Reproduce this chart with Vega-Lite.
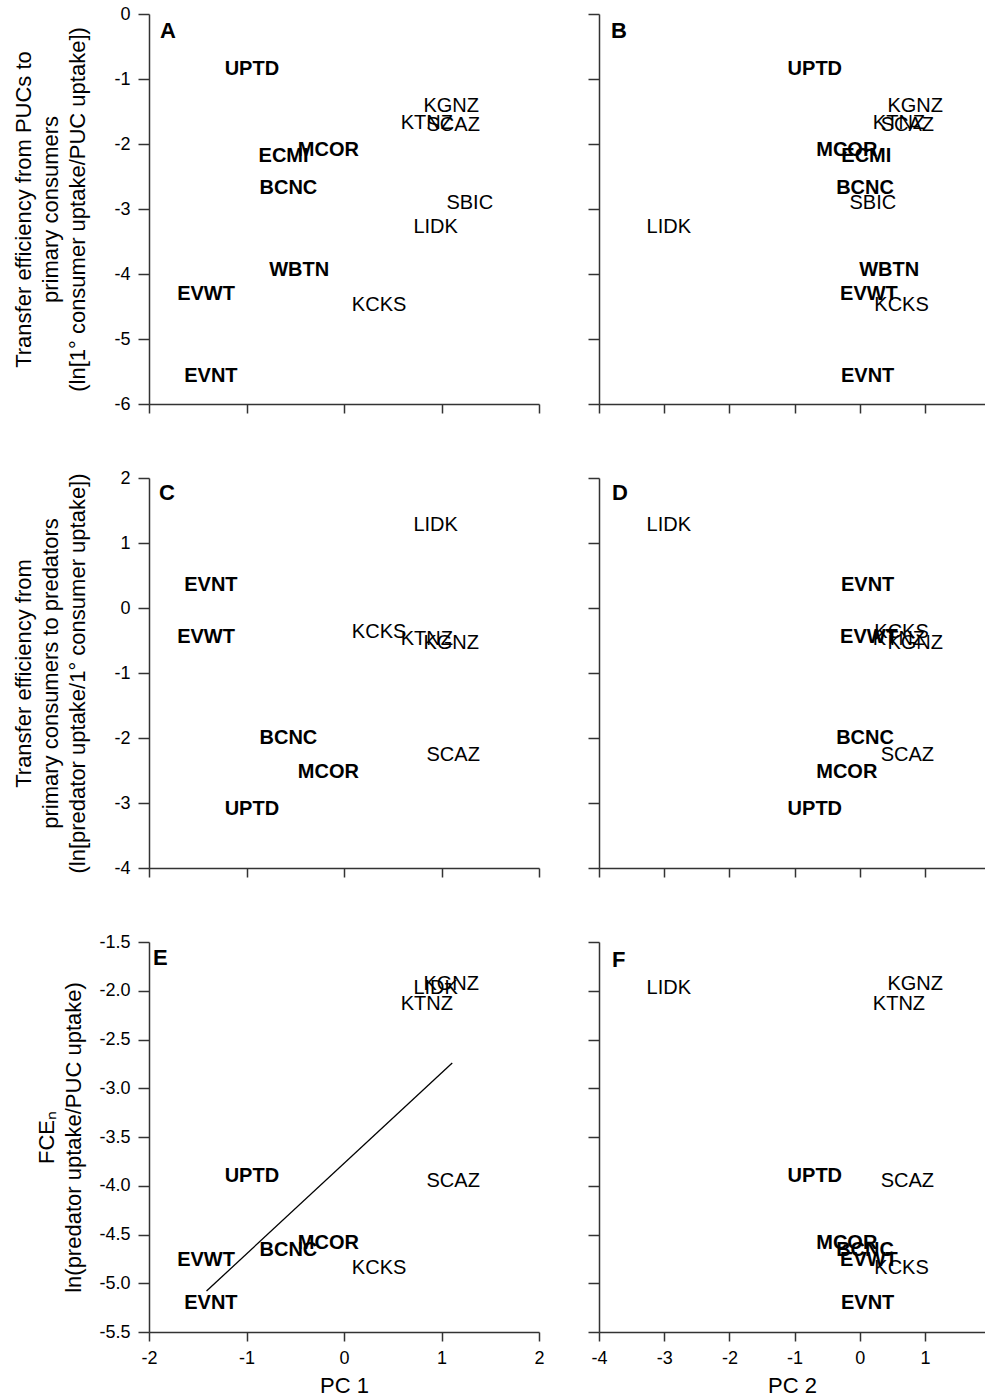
{
  "$schema": "https://vega.github.io/schema/vega-lite/v6.json",
  "padding": {"left": 12, "top": 5, "right": 0, "bottom": 0},
  "config": {
    "view": {"stroke": null},
    "font": "Liberation Sans",
    "axis": {
      "grid": false,
      "domainColor": "#333333",
      "tickColor": "#333333",
      "domainWidth": 1.5,
      "tickWidth": 1.5,
      "labelFont": "Liberation Sans",
      "labelFontSize": 18,
      "labelColor": "#000000",
      "titleFont": "Liberation Sans",
      "titleFontSize": 22,
      "titleFontWeight": "normal",
      "titleColor": "#000000",
      "labelPadding": 8,
      "labelFlush": false,
      "labelOverlap": false
    },
    "axisY": {"tickSize": 11},
    "axisX": {"tickSize": 9},
    "text": {"font": "Liberation Sans", "fontSize": 20, "color": "#000000"},
    "title": {"font": "Liberation Sans", "fontSize": 22, "fontWeight": "bold", "color": "#000000", "anchor": "start", "frame": "group"}
  },
  "datasets": {
    "sites": [
      {"site": "UPTD", "group": "a", "pc1": -0.945, "pc2": -0.69, "te1": -0.85, "te2": -3.09, "fce": -3.90},
      {"site": "KGNZ", "group": "b", "pc1": 1.10, "pc2": 0.85, "te1": -1.42, "te2": -0.54, "fce": -1.93},
      {"site": "KTNZ", "group": "b", "pc1": 0.85, "pc2": 0.60, "te1": -1.68, "te2": -0.47, "fce": -2.14},
      {"site": "SCAZ", "group": "b", "pc1": 1.12, "pc2": 0.73, "te1": -1.71, "te2": -2.26, "fce": -3.95},
      {"site": "MCOR", "group": "a", "pc1": -0.16, "pc2": -0.20, "te1": -2.09, "te2": -2.52, "fce": -4.59},
      {"site": "ECMI", "group": "a", "pc1": -0.62, "pc2": 0.10, "te1": -2.19, "te2": null, "fce": null},
      {"site": "BCNC", "group": "a", "pc1": -0.57, "pc2": 0.08, "te1": -2.68, "te2": -2.00, "fce": -4.66},
      {"site": "SBIC", "group": "b", "pc1": 1.29, "pc2": 0.20, "te1": -2.90, "te2": null, "fce": null},
      {"site": "LIDK", "group": "b", "pc1": 0.94, "pc2": -2.93, "te1": -3.27, "te2": 1.28, "fce": -1.97},
      {"site": "WBTN", "group": "a", "pc1": -0.46, "pc2": 0.45, "te1": -3.94, "te2": null, "fce": null},
      {"site": "EVWT", "group": "a", "pc1": -1.415, "pc2": 0.14, "te1": -4.31, "te2": -0.45, "fce": -4.76},
      {"site": "KCKS", "group": "b", "pc1": 0.36, "pc2": 0.64, "te1": -4.48, "te2": -0.37, "fce": -4.84},
      {"site": "EVNT", "group": "a", "pc1": -1.365, "pc2": 0.12, "te1": -5.57, "te2": 0.36, "fce": -5.20}
    ],
    "fit": [
      {"pc1": -1.41, "fce": -5.08},
      {"pc1": 1.11, "fce": -2.74}
    ]
  },
  "columns": 2,
  "align": "each",
  "spacing": {"row": 55, "column": 42},
  "concat": [
    {
      "width": 390, "height": 390,
      "title": {"text": "A", "offset": -38, "dx": 11},
      "data": {"name": "sites"},
      "encoding": {
        "x": {"field": "pc1", "type": "quantitative", "scale": {"domain": [-2, 2], "nice": false, "zero": false}, "axis": {"values": [-2, -1, 0, 1, 2], "labels": false, "title": null}},
        "y": {"field": "te1", "type": "quantitative", "scale": {"domain": [-6, 0], "nice": false, "zero": false}, "axis": {"values": [-6, -5, -4, -3, -2, -1, 0], "labelExpr": "replace(datum.label, '−', '-')", "title": ["Transfer efficiency from PUCs to", "primary consumers", "(ln[1° consumer uptake/PUC uptake])"], "titlePadding": 24, "titleLineHeight": 27}},
        "text": {"field": "site", "type": "nominal"}
      },
      "layer": [
        {"transform": [{"filter": "datum.group == 'a'"}], "mark": {"type": "text", "fontWeight": "bold"}},
        {"transform": [{"filter": "datum.group == 'b'"}], "mark": {"type": "text"}}
      ]
    },
    {
      "width": 386, "height": 390,
      "title": {"text": "B", "offset": -30, "dx": 12},
      "data": {"name": "sites"},
      "encoding": {
        "x": {"field": "pc2", "type": "quantitative", "scale": {"domain": [-4, 1.92], "nice": false, "zero": false}, "axis": {"values": [-4, -3, -2, -1, 0, 1], "labels": false, "title": null}},
        "y": {"field": "te1", "type": "quantitative", "scale": {"domain": [-6, 0], "nice": false, "zero": false}, "axis": {"values": [-6, -5, -4, -3, -2, -1, 0], "labels": false, "title": null}},
        "text": {"field": "site", "type": "nominal"}
      },
      "layer": [
        {"transform": [{"filter": "datum.group == 'a'"}], "mark": {"type": "text", "fontWeight": "bold"}},
        {"transform": [{"filter": "datum.group == 'b'"}], "mark": {"type": "text"}}
      ]
    },
    {
      "width": 390, "height": 390,
      "title": {"text": "C", "offset": -36, "dx": 10},
      "data": {"name": "sites"},
      "encoding": {
        "x": {"field": "pc1", "type": "quantitative", "scale": {"domain": [-2, 2], "nice": false, "zero": false}, "axis": {"values": [-2, -1, 0, 1, 2], "labels": false, "title": null}},
        "y": {"field": "te2", "type": "quantitative", "scale": {"domain": [-4, 2], "nice": false, "zero": false}, "axis": {"values": [-4, -3, -2, -1, 0, 1, 2], "labelExpr": "replace(datum.label, '−', '-')", "title": ["Transfer efficiency from", "primary consumers to predators", "(ln[predator uptake/1° consumer uptake])"], "titlePadding": 24, "titleLineHeight": 27}},
        "text": {"field": "site", "type": "nominal"}
      },
      "layer": [
        {"transform": [{"filter": "datum.group == 'a'"}], "mark": {"type": "text", "fontWeight": "bold"}},
        {"transform": [{"filter": "datum.group == 'b'"}], "mark": {"type": "text"}}
      ]
    },
    {
      "width": 386, "height": 390,
      "title": {"text": "D", "offset": -28, "dx": 13},
      "data": {"name": "sites"},
      "encoding": {
        "x": {"field": "pc2", "type": "quantitative", "scale": {"domain": [-4, 1.92], "nice": false, "zero": false}, "axis": {"values": [-4, -3, -2, -1, 0, 1], "labels": false, "title": null}},
        "y": {"field": "te2", "type": "quantitative", "scale": {"domain": [-4, 2], "nice": false, "zero": false}, "axis": {"values": [-4, -3, -2, -1, 0, 1, 2], "labels": false, "title": null}},
        "text": {"field": "site", "type": "nominal"}
      },
      "layer": [
        {"transform": [{"filter": "datum.group == 'a'"}], "mark": {"type": "text", "fontWeight": "bold"}},
        {"transform": [{"filter": "datum.group == 'b'"}], "mark": {"type": "text"}}
      ]
    },
    {
      "width": 390, "height": 390,
      "title": {"text": "E", "offset": -37, "dx": 4},
      "encoding": {
        "x": {"field": "pc1", "type": "quantitative", "scale": {"domain": [-2, 2], "nice": false, "zero": false}, "axis": {"values": [-2, -1, 0, 1, 2], "labelExpr": "replace(datum.label, '−', '-')", "title": "PC 1", "titlePadding": 8}},
        "y": {"field": "fce", "type": "quantitative", "scale": {"domain": [-5.5, -1.5], "nice": false, "zero": false}, "axis": {"values": [-5.5, -5, -4.5, -4, -3.5, -3, -2.5, -2, -1.5], "format": ".1f", "labelExpr": "replace(datum.label, '−', '-')", "title": ["FCEₙ", "ln(predator uptake/PUC uptake)"], "titlePadding": 13, "titleLineHeight": 27}}
      },
      "layer": [
        {"data": {"name": "fit"}, "mark": {"type": "line", "color": "#000000", "strokeWidth": 1.3}},
        {"data": {"name": "sites"}, "transform": [{"filter": "datum.group == 'a'"}], "mark": {"type": "text", "fontWeight": "bold"}, "encoding": {"text": {"field": "site", "type": "nominal"}}},
        {"data": {"name": "sites"}, "transform": [{"filter": "datum.group == 'b'"}], "mark": {"type": "text"}, "encoding": {"text": {"field": "site", "type": "nominal"}}}
      ]
    },
    {
      "width": 386, "height": 390,
      "title": {"text": "F", "offset": -31, "dx": 13},
      "data": {"name": "sites"},
      "encoding": {
        "x": {"field": "pc2", "type": "quantitative", "scale": {"domain": [-4, 1.92], "nice": false, "zero": false}, "axis": {"values": [-4, -3, -2, -1, 0, 1], "labelExpr": "replace(datum.label, '−', '-')", "title": "PC 2", "titlePadding": 8}},
        "y": {"field": "fce", "type": "quantitative", "scale": {"domain": [-5.5, -1.5], "nice": false, "zero": false}, "axis": {"values": [-5.5, -5, -4.5, -4, -3.5, -3, -2.5, -2, -1.5], "labels": false, "title": null}},
        "text": {"field": "site", "type": "nominal"}
      },
      "layer": [
        {"transform": [{"filter": "datum.group == 'a'"}], "mark": {"type": "text", "fontWeight": "bold"}},
        {"transform": [{"filter": "datum.group == 'b'"}], "mark": {"type": "text"}}
      ]
    }
  ]
}
